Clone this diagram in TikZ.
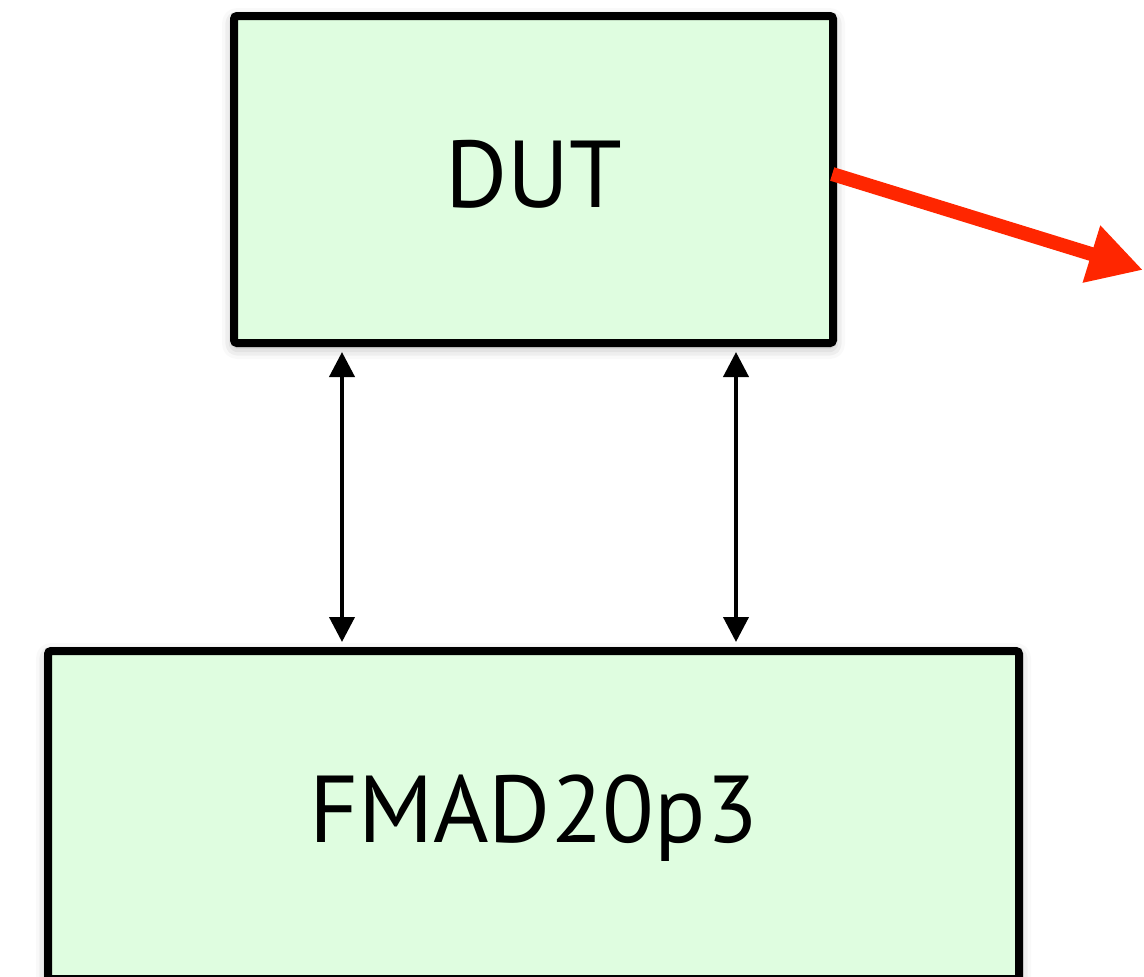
\documentclass[tikz,border=0pt]{standalone}
\usepackage{fontspec}
\setmainfont{PT Sans}
\usetikzlibrary{arrows.meta,shadows.blur}
\definecolor{boxfill}{RGB}{223,253,224}
\definecolor{redarrow}{RGB}{255,38,0}
\tikzset{
  block/.style={draw=black, fill=boxfill, line width=8pt, rounded corners=3pt,
    minimum width=599pt, minimum height=327pt, inner sep=0pt,
    font=\fontsize{95}{100}\selectfont, text height=67pt, text depth=12pt,
    blur shadow={shadow xshift=0pt, shadow yshift=-4pt, shadow blur radius=12pt, shadow opacity=35}},
  link/.style={line width=4pt, {Triangle[length=25pt,width=25pt]}-{Triangle[length=25pt,width=25pt]},
    shorten <=5pt, shorten >=5pt},
  outarrow/.style={draw=redarrow, line width=14pt, -{Triangle[length=54pt,width=56pt]}}
}
\begin{document}
\begin{tikzpicture}[x=1pt,y=-1pt]
\useasboundingbox (0,0) rectangle (1144,977);
\node[block] (DUT) at (533.5,179.5) {DUT};
\node[block, minimum width=971pt, minimum height=328pt] (FM) at (533.5,815) {FMAD20p3};
\coordinate (c1) at (342,500);
\coordinate (c2) at (736,500);
\coordinate (out) at (1143,270);
\draw[link] (DUT.south -| c1) -- (FM.north -| c1);
\draw[link] (DUT.south -| c2) -- (FM.north -| c2);
\draw[outarrow, shorten <=-5pt] ([yshift=4pt]DUT.east) -- (out);
\end{tikzpicture}
\end{document}
